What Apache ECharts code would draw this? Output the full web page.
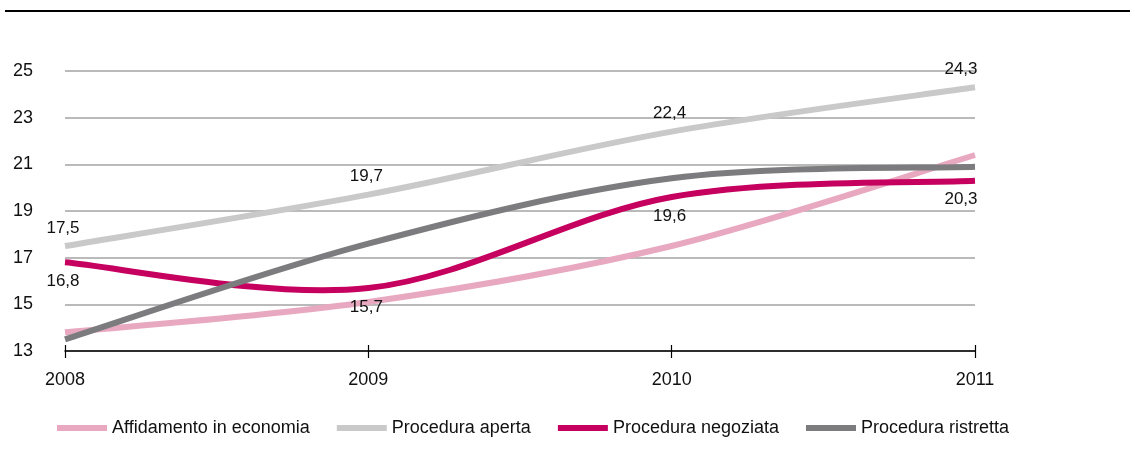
<!DOCTYPE html>
<html>

<head>
    <meta charset='UTF-8'>
    <script src="https://cdn.jsdelivr.net/npm/echarts@6/dist/echarts.min.js"></script>
    <style>
        html, body {
            margin: 0;
            padding: 0;
            background: #ffffff;
        }

        #chart {
            width: 1135px;
            height: 461px;
        }
    </style>
    <title>Procedure</title>
</head>

<body>
    <div id="chart"></div>

    <script>
        var years = ['2008', '2009', '2010', '2011'];
        var affidamento = [13.8, 15.1, 17.5, 21.4];
        var aperta = [17.5, 19.7, 22.4, 24.3];
        var negoziata = [16.8, 15.7, 19.6, 20.3];
        var ristretta = [13.5, 17.6, 20.4, 20.9];
        var seriesNames = ['Affidamento in economia', 'Procedura aperta', 'Procedura negoziata', 'Procedura ristretta'];
        var colors = ['#e8a9c0', '#c9c9c9', '#c5005f', '#7c7c7e'];

        var font = '"Liberation Sans", Arial, sans-serif';

        function toPairs(values) {
            return values.map(function (v, i) { return [i, v]; });
        }

        // smooth line like the spreadsheet one (catmull-rom, no clamping).
        // the whole curve is drawn with the first item, every item adds its label
        function curveItem(label) {
            return function (params, api) {
                var n = params.dataInsideLength;
                var i = params.dataIndexInside;
                var pt = function (k) {
                    k = Math.max(0, Math.min(n - 1, k));
                    return api.coord([api.value(0, k), api.value(1, k)]);
                };
                var children = [];
                if (i == 0) {
                    var start = pt(0);
                    var d = 'M' + start[0] + ' ' + start[1];
                    for (var k = 0; k < n - 1; k++) {
                        var p0 = pt(k - 1), p1 = pt(k), p2 = pt(k + 1), p3 = pt(k + 2);
                        d += ' C' + (p1[0] + (p2[0] - p0[0]) / 6) + ' ' + (p1[1] + (p2[1] - p0[1]) / 6) +
                            ' ' + (p2[0] - (p3[0] - p1[0]) / 6) + ' ' + (p2[1] - (p3[1] - p1[1]) / 6) +
                            ' ' + p2[0] + ' ' + p2[1];
                    }
                    children.push({
                        type: 'path',
                        shape: { pathData: d },
                        style: {
                            stroke: api.visual('color'),
                            lineWidth: 6,
                            fill: null
                        }
                    });
                }
                if (label) {
                    var p = pt(i);
                    children.push({
                        type: 'text',
                        z2: 10,
                        style: {
                            text: String(api.value(1)).replace('.', ','),
                            x: p[0] + (i == n - 1 ? -14 : -2),
                            y: p[1] + label.dy,
                            align: 'center',
                            verticalAlign: 'middle',
                            font: '17px ' + font,
                            fill: '#111111'
                        }
                    });
                }
                return { type: 'group', children: children };
            };
        }

        function makeSeries(k, values, label) {
            return {
                name: seriesNames[k],
                type: 'custom',
                coordinateSystem: 'cartesian2d',
                encode: { x: 0, y: 1 },
                itemStyle: { color: colors[k] },
                renderItem: curveItem(label),
                data: toPairs(values)
            };
        }

        var myChart = echarts.init(document.getElementById('chart'), null, { renderer: 'canvas' });

        var option = {
            animation: false,
            backgroundColor: '#ffffff',
            textStyle: { fontFamily: font },
            color: colors,
            graphic: [{
                type: 'line',
                shape: { x1: 5, y1: 11, x2: 1130, y2: 11 },
                style: { stroke: '#000000', lineWidth: 2 }
            }],
            grid: {
                left: 65,
                right: 160,
                top: 71,
                bottom: 110
            },
            legend: {
                data: seriesNames,
                left: 57,
                top: 419,
                padding: 0,
                icon: 'rect',
                itemWidth: 50,
                itemHeight: 6,
                itemGap: 27,
                textStyle: {
                    fontFamily: font,
                    fontSize: 18,
                    color: '#111111'
                }
            },
            xAxis: [{
                type: 'category',
                boundaryGap: false,
                data: years,
                axisLine: { lineStyle: { color: '#000000', width: 1.5 } },
                axisTick: { length: 7, lineStyle: { color: '#000000', width: 1.2 } },
                axisLabel: {
                    fontFamily: font,
                    fontSize: 18,
                    color: '#111111',
                    margin: 20
                },
                splitLine: { show: false }
            }, {
                // inner half of the crossing ticks
                type: 'category',
                boundaryGap: false,
                data: years,
                position: 'bottom',
                axisLine: { show: false },
                axisTick: { inside: true, length: 6, lineStyle: { color: '#000000', width: 1.2 } },
                axisLabel: { show: false }
            }],
            yAxis: {
                type: 'value',
                min: 13,
                max: 25,
                interval: 2,
                axisLine: { show: false },
                axisTick: { show: false },
                axisLabel: {
                    fontFamily: font,
                    fontSize: 18,
                    color: '#111111',
                    margin: 32
                },
                splitLine: {
                    lineStyle: { color: '#a3a3a3', width: 1.5 }
                }
            },
            series: [
                makeSeries(0, affidamento, null),
                makeSeries(1, aperta, { dy: -18 }),
                makeSeries(2, negoziata, { dy: 19 }),
                makeSeries(3, ristretta, null)
            ]
        };

        myChart.setOption(option);
        window.addEventListener('resize', myChart.resize);
    </script>
</body>

</html>
